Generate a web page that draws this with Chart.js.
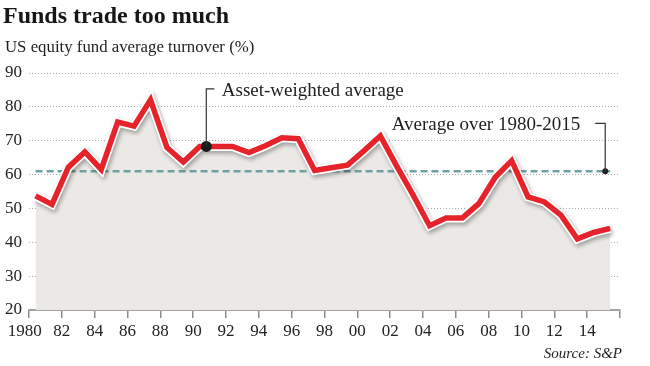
<!DOCTYPE html>
<html><head><meta charset="utf-8">
<script src="https://cdn.jsdelivr.net/npm/chart.js@4.4.0/dist/chart.umd.min.js"></script>
<style>
html,body{margin:0;padding:0;background:#fff;}
#wrap{position:relative;width:650px;height:366px;overflow:hidden;font-family:"Liberation Serif","DejaVu Serif",serif;color:#1e1e1e;}
canvas{position:absolute;left:0;top:0;}
.t{position:absolute;white-space:nowrap;}
#title{left:3px;top:3px;font-size:24px;line-height:24px;font-weight:bold;color:#161616;}
#sub{left:5px;top:39px;font-size:16.8px;line-height:16.8px;}
#src{right:28px;top:346px;font-size:15px;line-height:15px;font-style:italic;}
.ann{font-size:19px;line-height:19px;}
</style></head>
<body><div id="wrap">
<canvas id="c" width="650" height="366"></canvas>
<div class="t" id="title">Funds trade too much</div>
<div class="t" id="sub">US equity fund average turnover (%)</div>
<div class="t ann" id="annAsset">Asset-weighted average</div>
<div class="t ann" id="annAvg">Average over 1980-2015</div>
<div class="t" id="src">Source: S&amp;P</div>
</div>
<script>
// ---- data ----
const years = [1980,1981,1982,1983,1984,1985,1986,1987,1988,1989,
               1990,1991,1992,1993,1994,1995,1996,1997,1998,1999,
               2000,2001,2002,2003,2004,2005,2006,2007,2008,2009,
               2010,2011,2012,2013,2014,2015];
const turnover = [53.7,51.2,62.2,66.7,61.5,75.5,74.3,82.1,68.0,63.7,
                  68.3,68.3,68.3,66.5,68.5,70.9,70.6,61.2,62.0,62.8,
                  67.0,71.4,62.5,53.9,44.9,47.2,47.2,51.4,59.2,64.1,
                  53.4,51.9,48.0,41.0,42.9,44.1];
const longRunAverage = 61.0;
const assetWeightedMark = [1990.8, 68.3];   // year, value where the marker sits
const assetLabelValue = 85.3;               // value level of the label leader
const averageMarkYear = 2015.1;
const averageLabelValue = 75.1;
const yTicks = [20,30,40,50,60,70,80,90];
const xTickYears = [1980,1982,1984,1986,1988,1990,1992,1994,1996,1998,2000,2002,2004,2006,2008,2010,2012,2014,2016];
const xTickLabels = ['1980','82','84','86','88','90','92','94','96','98','00','02','04','06','08','10','12','14',''];

// ---- build ----
const MID = 0.4;
const pts = turnover.map((v,i)=>({x: years[i]+MID, y: v}));
const avgPts = [{x: years[0]+MID, y: longRunAverage},{x: years[years.length-1]+MID, y: longRunAverage}];

const shadowPlugin = {
  id:'shadow',
  beforeDatasetDraw(chart,args){
    if(chart.data.datasets[args.index].label==='halo'){
      const c=chart.ctx; c.save();
      c.shadowColor='rgba(0,0,0,0.32)'; c.shadowBlur=4; c.shadowOffsetX=1.5; c.shadowOffsetY=2.5;
    }
  },
  afterDatasetDraw(chart,args){
    if(chart.data.datasets[args.index].label==='halo'){ chart.ctx.restore(); }
  }
};

const leaderPlugin = {
  id:'leaders',
  afterDatasetsDraw(chart){
    const c=chart.ctx, xs=chart.scales.x, ys=chart.scales.y;
    c.save();
    c.strokeStyle='#333'; c.lineWidth=1.2; c.setLineDash([]);
    const ax=xs.getPixelForValue(assetWeightedMark[0]), ay=ys.getPixelForValue(assetWeightedMark[1]);
    const aTop=ys.getPixelForValue(assetLabelValue);
    c.beginPath(); c.moveTo(ax,ay); c.lineTo(ax,aTop); c.lineTo(ax+8,aTop); c.stroke();
    const la=document.getElementById('annAsset');
    la.style.left=(ax+15.5)+'px'; la.style.top=(aTop-8.5)+'px';
    const vx=xs.getPixelForValue(averageMarkYear), vy=ys.getPixelForValue(longRunAverage);
    const vTop=ys.getPixelForValue(averageLabelValue);
    c.beginPath(); c.moveTo(vx,vy); c.lineTo(vx,vTop); c.lineTo(vx-10,vTop); c.stroke();
    const lv=document.getElementById('annAvg');
    lv.style.right=(650-(vx-25))+'px'; lv.style.top=(vTop-9)+'px';
    c.restore();
  }
};

const FONT = {family:'"Liberation Serif", serif', size:17};

new Chart(document.getElementById('c'), {
  type:'line',
  data:{ datasets:[
    {label:'assetDot', data:[{x:assetWeightedMark[0], y:assetWeightedMark[1]}], showLine:false,
     pointRadius:5.5, pointBackgroundColor:'#1a1a1a', pointBorderWidth:0, order:0},
    {label:'avgDot', data:[{x:averageMarkYear, y:longRunAverage}], showLine:false,
     pointRadius:3, pointBackgroundColor:'#222', pointBorderWidth:0, order:0},
    {label:'turnover', data:pts, borderColor:'#e6222b', borderWidth:5.5, pointRadius:0,
     borderJoinStyle:'miter', borderCapStyle:'butt', fill:false, tension:0, order:1},
    {label:'halo', data:pts, borderColor:'#ffffff', borderWidth:9, pointRadius:0,
     borderJoinStyle:'miter', borderCapStyle:'butt', fill:false, tension:0, order:2},
    {label:'average', data:avgPts, borderColor:'#6fa0a3', borderWidth:2.5, borderDash:[7,4],
     pointRadius:0, fill:false, order:3},
    {label:'area', data:pts, borderWidth:0, borderColor:'rgba(0,0,0,0)', backgroundColor:'#eae9e5',
     pointRadius:0, fill:'start', tension:0, order:4}
  ]},
  options:{
    responsive:false, animation:false, events:[],
    layout:{padding:{left:5, right:30, top:73, bottom:16}},
    plugins:{legend:{display:false}, tooltip:{enabled:false}},
    scales:{
      x:{type:'linear', min:1980, max:2016,
        afterBuildTicks(s){ s.ticks = xTickYears.map(v=>({value:v})); },
        afterFit(s){ s.height=40; },
        ticks:{autoSkip:false, maxRotation:0, padding:3, color:'#222', font:FONT,
          callback(v){ const i=xTickYears.indexOf(v); if(i<0) return ''; return i===0 ? xTickLabels[i]+'\u2002' : xTickLabels[i]; }},
        grid:{drawOnChartArea:false, drawTicks:true, tickLength:8, color:'#8c8c8c', lineWidth:1.5},
        border:{display:true, color:'#a3a3a3', width:2}
      },
      y:{type:'linear', min:20, max:90,
        afterBuildTicks(s){ s.ticks = yTicks.map(v=>({value:v})); },
        afterFit(s){ s.width=24; },
        ticks:{crossAlign:'far', color:'#222', font:FONT},
        grid:{drawTicks:false, color:'#a9a9a9', lineWidth:1},
        border:{display:false, dash:[1,2]}
      }
    }
  },
  plugins:[shadowPlugin, leaderPlugin]
});
</script>
</body></html>
